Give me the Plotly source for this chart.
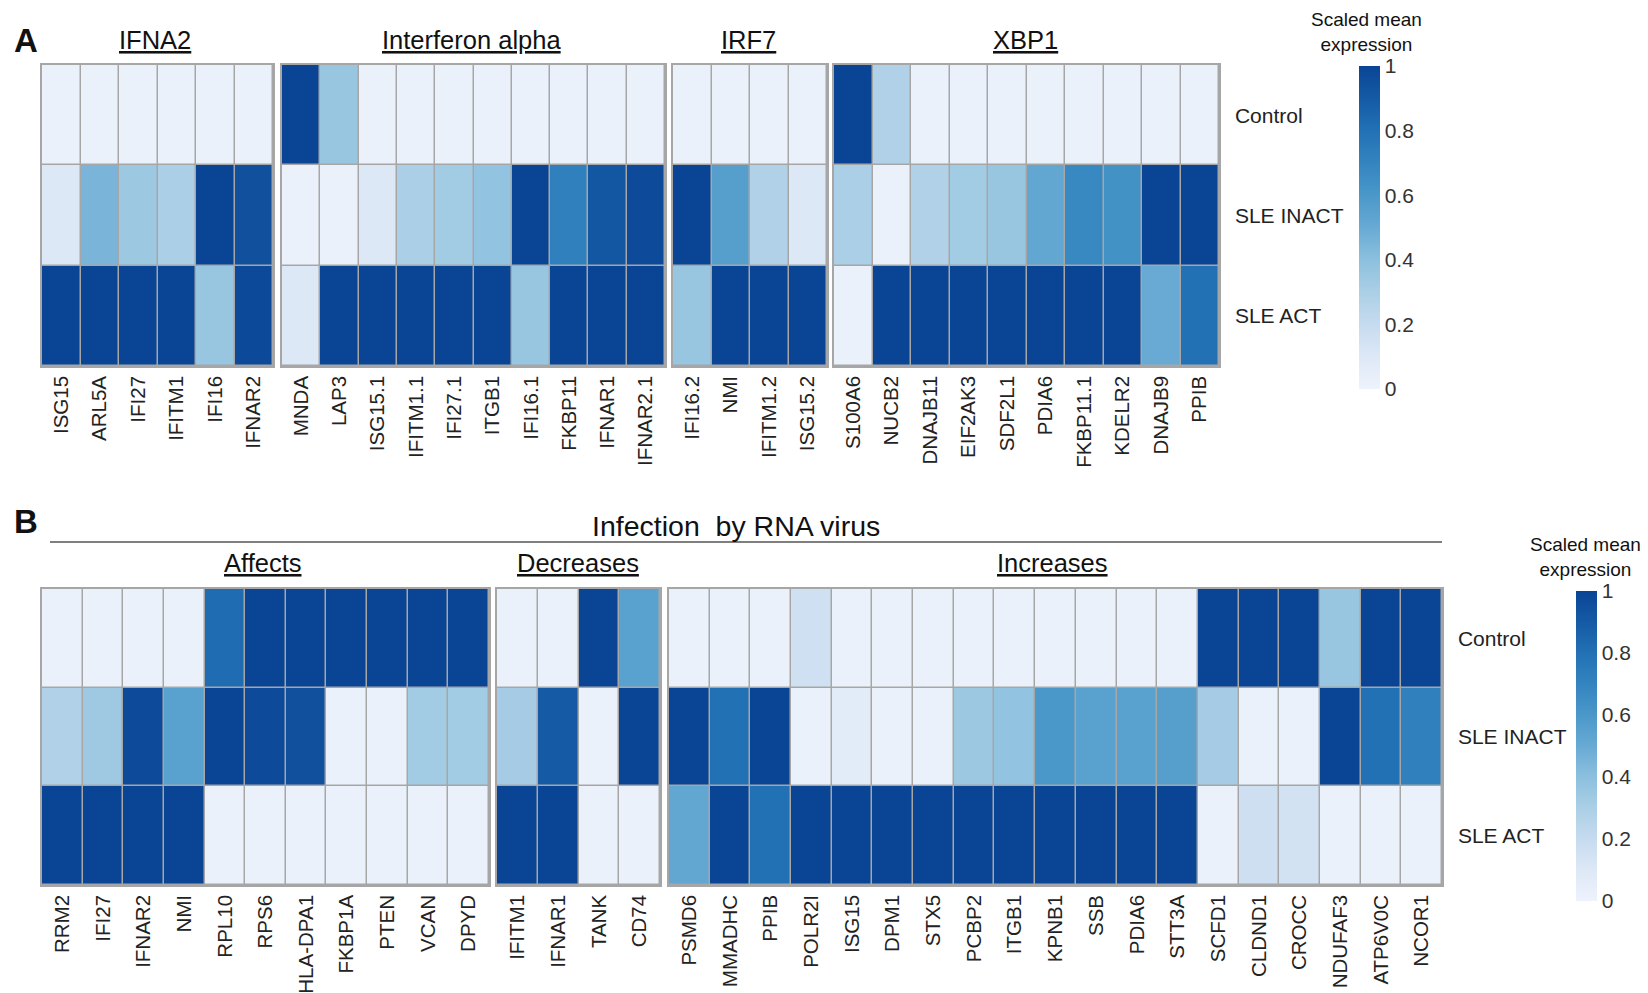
import plotly.graph_objects as go

# ---------------- data ----------------
rows = ["Control", "SLE INACT", "SLE ACT"]

# Panel A
a_titles = ["IFNA2", "Interferon alpha", "IRF7", "XBP1"]
a_genes_1 = ["ISG15", "ARL5A", "IFI27", "IFITM1", "IFI16", "IFNAR2"]
a_vals_1 = [
    [0.02, 0.02, 0.02, 0.02, 0.02, 0.02],
    [0.10, 0.45, 0.35, 0.30, 1.00, 0.95],
    [1.00, 1.00, 1.00, 1.00, 0.36, 0.98],
]
a_genes_2 = ["MNDA", "LAP3", "ISG15.1", "IFITM1.1", "IFI27.1", "ITGB1",
             "IFI16.1", "FKBP11", "IFNAR1", "IFNAR2.1"]
a_vals_2 = [
    [1.00, 0.36, 0.02, 0.02, 0.02, 0.02, 0.02, 0.02, 0.02, 0.02],
    [0.02, 0.02, 0.10, 0.30, 0.33, 0.38, 1.00, 0.72, 0.92, 0.97],
    [0.10, 1.00, 1.00, 1.00, 1.00, 1.00, 0.36, 1.00, 1.00, 1.00],
]
a_genes_3 = ["IFI16.2", "NMI", "IFITM1.2", "ISG15.2"]
a_vals_3 = [
    [0.02, 0.02, 0.02, 0.02],
    [1.00, 0.56, 0.28, 0.10],
    [0.36, 1.00, 1.00, 1.00],
]
a_genes_4 = ["S100A6", "NUCB2", "DNAJB11", "EIF2AK3", "SDF2L1", "PDIA6",
             "FKBP11.1", "KDELR2", "DNAJB9", "PPIB"]
a_vals_4 = [
    [1.00, 0.28, 0.02, 0.02, 0.02, 0.02, 0.02, 0.02, 0.02, 0.02],
    [0.30, 0.02, 0.28, 0.33, 0.36, 0.52, 0.68, 0.63, 1.00, 1.00],
    [0.02, 1.00, 1.00, 1.00, 1.00, 1.00, 1.00, 1.00, 0.50, 0.80],
]

# Panel B
b_title = "Infection  by RNA virus"
b_titles = ["Affects", "Decreases", "Increases"]
b_genes_1 = ["RRM2", "IFI27", "IFNAR2", "NMI", "RPL10", "RPS6", "HLA-DPA1",
             "FKBP1A", "PTEN", "VCAN", "DPYD"]
b_vals_1 = [
    [0.02, 0.02, 0.02, 0.02, 0.82, 1.00, 1.00, 1.00, 1.00, 1.00, 1.00],
    [0.28, 0.34, 0.97, 0.55, 1.00, 0.97, 0.95, 0.02, 0.02, 0.33, 0.33],
    [1.00, 1.00, 1.00, 1.00, 0.02, 0.02, 0.02, 0.02, 0.02, 0.02, 0.02],
]
b_genes_2 = ["IFITM1", "IFNAR1", "TANK", "CD74"]
b_vals_2 = [
    [0.02, 0.02, 1.00, 0.55],
    [0.32, 0.90, 0.02, 1.00],
    [1.00, 1.00, 0.02, 0.02],
]
b_genes_3 = ["PSMD6", "MMADHC", "PPIB", "POLR2I", "ISG15", "DPM1", "STX5",
             "PCBP2", "ITGB1", "KPNB1", "SSB", "PDIA6", "STT3A", "SCFD1",
             "CLDND1", "CROCC", "NDUFAF3", "ATP6V0C", "NCOR1"]
b_vals_3 = [
    [0.02, 0.02, 0.02, 0.16, 0.02, 0.02, 0.02, 0.02, 0.02, 0.02, 0.02, 0.02,
     0.02, 1.00, 1.00, 1.00, 0.36, 1.00, 1.00],
    [1.00, 0.80, 1.00, 0.02, 0.07, 0.02, 0.02, 0.35, 0.38, 0.60, 0.55, 0.55,
     0.56, 0.32, 0.02, 0.02, 1.00, 0.80, 0.72],
    [0.52, 1.00, 0.80, 1.00, 1.00, 1.00, 1.00, 1.00, 1.00, 1.00, 1.00, 1.00,
     1.00, 0.02, 0.17, 0.15, 0.02, 0.02, 0.02],
]

cbar_title = "Scaled mean<br>expression"
cbar_ticks = [0, 0.2, 0.4, 0.6, 0.8, 1]
cbar_ticktext = ["0", "0.2", "0.4", "0.6", "0.8", "1"]

# ---------------- styling / layout ----------------
W, H = 1648, 993
def px(x):
    return x / W
def py(y):
    return 1 - y / H

colorscale = [
    [0.0, "#eef3fc"], [0.1, "#dde8f6"], [0.2, "#c6dbef"], [0.3, "#abcfe6"],
    [0.4, "#8cc0de"], [0.5, "#68aad4"], [0.6, "#4a98c9"], [0.7, "#3484c0"],
    [0.8, "#2271b5"], [0.9, "#155aa5"], [1.0, "#0a4595"],
]
GRID = "#a6a6a6"
FONT = "Liberation Sans, Arial, sans-serif"
TXT = "#222222"

panelA = [(a_genes_1, a_vals_1, (42, 273)), (a_genes_2, a_vals_2, (282, 665)),
          (a_genes_3, a_vals_3, (673, 827)), (a_genes_4, a_vals_4, (834, 1219))]
panelB = [(b_genes_1, b_vals_1, (42, 489)), (b_genes_2, b_vals_2, (497, 660)),
          (b_genes_3, b_vals_3, (669, 1442))]
yA = (65, 366)
yB = (589, 885)

fig = go.Figure()
layout = {}
idx = 0
for panel, (ytop, ybot), cax in [(panelA, yA, "coloraxis"), (panelB, yB, "coloraxis2")]:
    for j, (genes, vals, (x0, x1)) in enumerate(panel):
        idx += 1
        xa = "x" if idx == 1 else f"x{idx}"
        ya = "y" if idx == 1 else f"y{idx}"
        fig.add_trace(go.Heatmap(
            z=vals, x=genes, y=rows, coloraxis=cax,
            xgap=1.5, ygap=1.5, xaxis=xa, yaxis=ya,
            hovertemplate="%{x} / %{y}: %{z}<extra></extra>",
        ))
        last = (j == len(panel) - 1)
        layout[xa.replace("x", "xaxis")] = dict(
            domain=[px(x0), px(x1)], anchor=ya, tickangle=-90,
            showline=True, linecolor=GRID, linewidth=1.5, mirror=True,
            showgrid=False, zeroline=False, ticks="",
            tickfont=dict(family=FONT, size=20.5, color=TXT),
            ticklabelstandoff=0,
        )
        layout[ya.replace("y", "yaxis")] = dict(
            domain=[py(ybot), py(ytop)], anchor=xa, autorange="reversed",
            showline=True, linecolor=GRID, linewidth=1.5, mirror=True,
            showgrid=False, zeroline=False, ticks="",
            showticklabels=last, side="right",
            tickfont=dict(family=FONT, size=21, color=TXT),
            ticklabelstandoff=10,
        )

def cbar(x_left, y_top, length):
    return dict(
        x=px(x_left), xanchor="left", xref="paper", y=py(y_top), yanchor="top",
        yref="paper", lenmode="pixels", len=length, thickness=21,
        xpad=0, ypad=0, outlinewidth=0, ticks="",
        tickvals=cbar_ticks, ticktext=cbar_ticktext,
        tickfont=dict(family=FONT, size=21, color="#333333"),
    )

layout["coloraxis"] = dict(colorscale=colorscale, cmin=0, cmax=1,
                           colorbar=cbar(1359, 66, 323))
layout["coloraxis2"] = dict(colorscale=colorscale, cmin=0, cmax=1,
                            colorbar=cbar(1576, 591, 310))

ann = []
def add_text(text, x, y, size, bold=False, under=False, xanchor="center"):
    f = dict(family=FONT, size=size, color="#111111")
    if bold:
        f["weight"] = "bold"
    if under:
        f["lineposition"] = "under"
    ann.append(dict(text=text, x=px(x), y=py(y), xref="paper", yref="paper",
                    showarrow=False, xanchor=xanchor, yanchor="middle", font=f))

add_text("A", 12, 40, 33, bold=True, xanchor="left")
add_text("B", 12, 521, 33, bold=True, xanchor="left")
for t, cx in zip(a_titles, [155, 471, 748, 1025]):
    add_text(t, cx, 40, 25.5, under=True)
add_text(b_title, 736, 526, 28.5)
for t, cx in zip(b_titles, [262, 578, 1052]):
    add_text(t, cx, 563, 25.5, under=True)
# colorbar titles
for cx, cy in [(1366, 32), (1585, 557)]:
    ann.append(dict(text=cbar_title, x=px(cx), y=py(cy), xref="paper", yref="paper",
                    showarrow=False, xanchor="center", yanchor="middle",
                    font=dict(family=FONT, size=19, color="#111111")))

shapes = [dict(type="line", xref="paper", yref="paper",
               x0=px(50), x1=px(1442), y0=py(542), y1=py(542),
               line=dict(color="#555555", width=1.5))]

fig.update_layout(
    width=W, height=H, margin=dict(l=0, r=0, t=0, b=0),
    paper_bgcolor="white", plot_bgcolor=GRID,
    annotations=ann, shapes=shapes, showlegend=False,
    font=dict(family=FONT, color=TXT),
    **layout,
)

fig.write_html("out.html")
